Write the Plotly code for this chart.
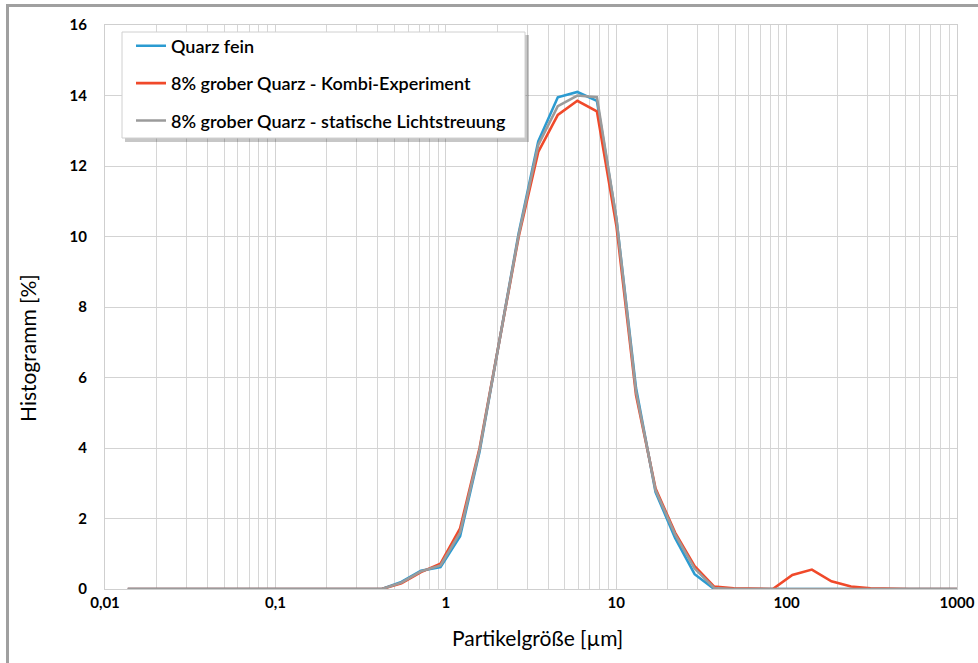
import plotly.graph_objects as go

# Particle size bins (µm)
size_um = [0.0136, 0.0177, 0.0231, 0.0301, 0.0392, 0.0510, 0.0664, 0.0865, 0.1126, 0.1466,
           0.1910, 0.2487, 0.3238, 0.4217, 0.549, 0.715, 0.931, 1.213, 1.579, 2.057,
           2.679, 3.488, 4.543, 5.916, 7.704, 10.03, 13.07, 17.02, 22.16, 28.86,
           37.58, 48.94, 63.73, 82.99, 108.1, 140.7, 183.3, 238.7, 310.8, 404.8,
           527.1, 686.4, 893.9, 1164.0]

quarz_fein = [0, 0, 0, 0, 0, 0, 0, 0, 0, 0,
              0, 0, 0, 0, 0.20, 0.52, 0.62, 1.50, 3.90, 7.0,
              10.1, 12.7, 13.95, 14.1, 13.85, 10.5, 5.7, 2.75, 1.45, 0.42,
              0, 0, 0, 0, 0, 0, 0, 0, 0, 0,
              0, 0, 0, 0]

kombi = [0, 0, 0, 0, 0, 0, 0, 0, 0, 0,
         0, 0, 0, 0, 0.16, 0.48, 0.72, 1.72, 4.0, 7.0,
         10.0, 12.4, 13.45, 13.85, 13.55, 10.3, 5.5, 2.85, 1.6, 0.65,
         0.07, 0.02, 0, 0, 0.40, 0.55, 0.22, 0.07, 0.02, 0,
         0, 0, 0, 0]

statisch = [0, 0, 0, 0, 0, 0, 0, 0, 0, 0,
            0, 0, 0, 0, 0.18, 0.50, 0.67, 1.60, 3.95, 7.0,
            10.05, 12.6, 13.7, 14.0, 13.95, 10.5, 5.6, 2.8, 1.55, 0.58,
            0.03, 0, 0, 0, 0, 0, 0, 0, 0, 0,
            0, 0, 0, 0]

series_names = ["Quarz fein",
                "8% grober Quarz - Kombi-Experiment",
                "8% grober Quarz - statische Lichtstreuung"]
series_colors = ["#2b9bd1", "#f0492a", "#9b9b9b"]

x_tickvals = [0.01, 0.1, 1, 10, 100, 1000]
x_ticktext = ["0,01", "0,1", "1", "10", "100", "1000"]
y_tickvals = [0, 2, 4, 6, 8, 10, 12, 14, 16]

minor_vals = [m * d for d in [0.01, 0.1, 1, 10, 100] for m in range(2, 10)]

FONT = "Lato"
W, H = 978, 663
L, R, T, B = 105, 21, 25, 74
PW, PH = W - L - R, H - T - B


def px_x(px):
    return (px - L) / PW


def px_y(py):
    return (H - B - py) / PH


fig = go.Figure()
for i, (vals, name, col) in enumerate(zip([quarz_fein, kombi, statisch], series_names, series_colors)):
    fig.add_trace(go.Scatter(
        x=size_um, y=vals, mode="lines", name=name,
        line=dict(color=col, width=2.6),
        legendgroup="g%d" % i,
    ))

fig.update_layout(
    width=W, height=H,
    margin=dict(l=L, r=R, t=T, b=B, autoexpand=False),
    paper_bgcolor="white", plot_bgcolor="white",
    font=dict(family=FONT, color="#000000"),
    showlegend=True,
    legend=dict(
        x=px_x(131), y=px_y(27.5), xanchor="left", yanchor="top",
        bgcolor="rgba(0,0,0,0)", borderwidth=0,
        font=dict(family=FONT, size=18, color="#000", weight=600),
        traceorder="grouped", tracegroupgap=11,
    ),
    xaxis=dict(
        type="log", range=[-2, 3], automargin=False,
        tickmode="array", tickvals=x_tickvals, ticktext=x_ticktext,
        tickfont=dict(family=FONT, size=15, color="#000", weight="bold"),
        showgrid=True, gridcolor="#d3d3d3", gridwidth=1,
        minor=dict(tickmode="array", tickvals=minor_vals, showgrid=True,
                   gridcolor="#d6d6d6", gridwidth=1, ticks=""),
        showline=True, linecolor="#cfcfcf", linewidth=1, mirror=True,
        ticks="", zeroline=False,
    ),
    yaxis=dict(
        range=[0, 16], tickmode="array", tickvals=y_tickvals, automargin=False,
        tickfont=dict(family=FONT, size=15, color="#000", weight="bold"),
        showgrid=True, gridcolor="#d3d3d3", gridwidth=1,
        showline=True, linecolor="#cfcfcf", linewidth=1, mirror=True,
        ticks="", zeroline=False, ticklabelstandoff=14,
    ),
    annotations=[
        dict(text="Histogramm [%]", textangle=-90, xref="paper", yref="paper",
             x=px_x(27), y=px_y(348), xanchor="center", yanchor="middle",
             showarrow=False, font=dict(family=FONT, size=21, color="#000")),
        dict(text="Partikelgröße [µm]", xref="paper", yref="paper",
             x=px_x(537), y=px_y(637), xanchor="center", yanchor="middle",
             showarrow=False, font=dict(family=FONT, size=21, color="#000")),
    ],
    shapes=[
        # legend shadow and box
        dict(type="rect", xref="paper", yref="paper",
             x0=px_x(125), y0=px_y(142), x1=px_x(529), y1=px_y(35),
             line=dict(width=0), fillcolor="rgba(0,0,0,0.22)", layer="above"),
        dict(type="rect", xref="paper", yref="paper",
             x0=px_x(122), y0=px_y(138), x1=px_x(525), y1=px_y(32),
             line=dict(color="#d0d0d0", width=1), fillcolor="white", layer="above"),
        # outer frame
        dict(type="rect", xref="paper", yref="paper",
             x0=px_x(7.5), y0=px_y(700), x1=px_x(1000), y1=px_y(5.5),
             line=dict(color="#a0a0a0", width=3), fillcolor="rgba(0,0,0,0)", layer="above"),
    ],
)

fig.write_html("out.html")
